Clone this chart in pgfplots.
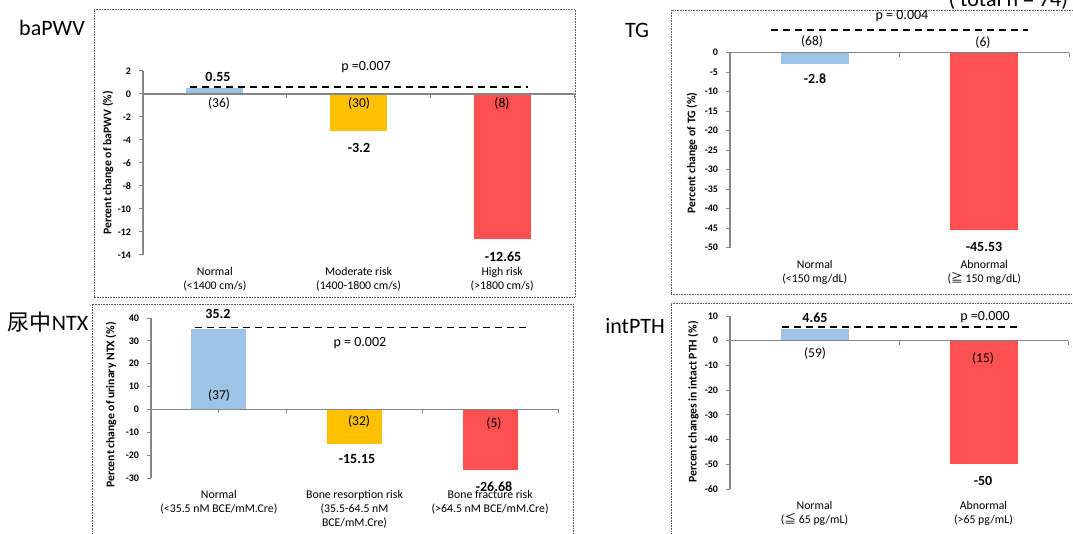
\documentclass[border=0pt]{standalone}
\usepackage{fontspec}
\setmainfont{Carlito}
\newfontfamily\cjk{Noto Sans CJK SC}
\usepackage{pgfplots}
\pgfplotsset{compat=1.18}

\definecolor{barblue}{RGB}{157,195,230}
\definecolor{baryellow}{RGB}{255,192,0}
\definecolor{barred}{RGB}{255,80,80}
\definecolor{axisgray}{RGB}{134,134,134}
\definecolor{framegray}{RGB}{90,90,90}

\pgfplotsset{
  panel/.style={
    scale only axis, clip=false, anchor=south west,
    axis y line*=left, axis x line*=bottom,
    x axis line style={draw=none},
    y axis line style={draw=axisgray, line width=1.2pt},
    xtick style={draw=none},
    ytick style={draw=axisgray, line width=1pt},
    tick align=outside, major tick length=4pt,
    yticklabel style={font=\bfseries\fontsize{10}{11}\selectfont, xshift=-4.5pt},
    xticklabel style={font=\fontsize{11.8}{14}\selectfont, align=center,
      anchor=north, inner sep=0pt, yshift=-8.5pt},
    ylabel style={font=\bfseries\fontsize{11.7}{13}\selectfont, anchor=center},
    /pgf/number format/assume math mode=true,
  },
  bar/.style={ybar, bar width=#1, bar shift=0pt, draw=none},
  pdash/.style={black, line width=1.3pt, dash pattern=on 7pt off 5pt},
}
\tikzset{
  val/.style={font=\bfseries\fontsize{14}{15}\selectfont},
  cnt/.style={font=\fontsize{13.5}{15}\selectfont},
  pv/.style={font=\fontsize{14}{15}\selectfont},
  ttl/.style={font=\fontsize{22}{24}\selectfont},
  frame/.style={framegray, line width=0.8pt, dash pattern=on 0.8pt off 0.8pt},
  zline/.style={axisgray, line width=1.3pt},
  ztick/.style={axisgray, line width=1pt},
}

\begin{document}
\begin{tikzpicture}[x=1pt,y=1pt]
\useasboundingbox (0,0) rectangle (1073,533);

% frames
\draw[frame] (94,236) rectangle (575,524);
\draw[frame] (671,239) rectangle (1085,523);
\draw[frame] (92,-10) rectangle (573,229);
\draw[frame] (671,-10) rectangle (1085,230);

% titles
\node[ttl] at (52,505) {baPWV};
\node[ttl] at (637,503) {TG};
\node[ttl] at (48,211) {{\cjk 尿中}NTX};
\node[ttl] at (635,207) {intPTH};
\node[ttl, anchor=base west] at (945,526) {( total n = 74)};

% ---- baPWV
\begin{axis}[panel, at={(143pt,278pt)}, width=431pt, height=184pt,
  xmin=-0.5, xmax=2.5, ymin=-14, ymax=2, ytick={-14,-12,...,2},
  xtick={0,1,2},
  xticklabels={{Normal\\(<1400 cm/s)},{Moderate risk\\(1400-1800 cm/s)},{High risk\\(>1800 cm/s)}},
  ylabel={Percent change of baPWV (\%)},
  ylabel style={at={(axis description cs:-0.081,0.5)}}]
\addplot[bar=57pt, fill=barblue] coordinates {(0,0.55)};
\addplot[bar=57pt, fill=baryellow] coordinates {(1,-3.2)};
\addplot[bar=57pt, fill=barred] coordinates {(2,-12.65)};
\addplot[pdash] coordinates {(-0.173,0.6) (2.18,0.6)};
\draw[zline] (axis cs:-0.5,0) -- (axis cs:2.5,0);
\draw[ztick] (axis cs:0.5,0) -- ++(0pt,-4pt);
\draw[ztick] (axis cs:1.5,0) -- ++(0pt,-4pt);
\draw[ztick] (axis cs:2.5,0) -- ++(0pt,-4pt);
\end{axis}
\node[val] at (218,456) {0.55};
\node[cnt] at (219,429) {(36)};
\node[cnt] at (359,429) {(30)};
\node[val] at (359,385) {-3.2};
\node[cnt] at (502,429) {(8)};
\node[val] at (503,276) {-12.65};
\node[pv] at (366,466) {p =0.007};

% ---- TG
\begin{axis}[panel, at={(730pt,285.3pt)}, width=339pt, height=195pt,
  xmin=-0.5, xmax=1.5, ymin=-50, ymax=0, ytick={-50,-45,...,0},
  xtick={0,1},
  xticklabels={{Normal\\(<150 mg/dL)},{Abnormal\\({\cjk ≧} 150 mg/dL)}},
  ylabel={Percent change of TG (\%)},
  ylabel style={at={(axis description cs:-0.112,0.486)}}]
\addplot[bar=68pt, fill=barblue] coordinates {(0,-2.8)};
\addplot[bar=68pt, fill=barred] coordinates {(1,-45.53)};
\addplot[pdash] coordinates {(-0.258,5.8) (1.258,5.8)};
\draw[zline] (axis cs:-0.5,0) -- (axis cs:1.5,0);
\draw[ztick] (axis cs:0.5,0) -- ++(0pt,-4pt);
\draw[ztick] (axis cs:1.5,0) -- ++(0pt,-4pt);
\end{axis}
\node[pv] at (902,517) {p = 0.004};
\node[cnt] at (812,491) {(68)};
\node[cnt] at (983,490) {(6)};
\node[val] at (815,454) {-2.8};
\node[val] at (984,286) {-45.53};

% ---- urinary NTX
\begin{axis}[panel, at={(151pt,55pt)}, width=407pt, height=160pt,
  xmin=-0.5, xmax=2.5, ymin=-30, ymax=40, ytick={-30,-20,...,40},
  xtick={0,1,2},
  xticklabels={{Normal\\(<35.5 nM BCE/mM.Cre)},{Bone resorption risk\\(35.5-64.5 nM\\BCE/mM.Cre)},{Bone fracture risk\\(>64.5 nM BCE/mM.Cre)}},
  ylabel={Percent change of urinary NTX (\%)},
  ylabel style={at={(axis description cs:-0.098,0.456)}}]
\addplot[bar=55pt, fill=barblue] coordinates {(0,35.2)};
\addplot[bar=55pt, fill=baryellow] coordinates {(1,-15.15)};
\addplot[bar=55pt, fill=barred] coordinates {(2,-26.68)};
\addplot[pdash] coordinates {(-0.176,35.9) (2.264,35.9)};
\draw[zline] (axis cs:-0.5,0) -- (axis cs:2.5,0);
\draw[ztick] (axis cs:0,0) -- ++(0pt,-4pt);
\draw[ztick] (axis cs:0.5,0) -- ++(0pt,-4pt);
\draw[ztick] (axis cs:1.5,0) -- ++(0pt,-4pt);
\draw[ztick] (axis cs:2,0) -- ++(0pt,-4pt);
\draw[ztick] (axis cs:2.5,0) -- ++(0pt,-4pt);
\end{axis}
\node[val] at (218,219) {35.2};
\node[pv] at (360,190) {p = 0.002};
\node[cnt] at (219,138) {(37)};
\node[cnt] at (359,112) {(32)};
\node[val] at (357,74) {-15.15};
\node[cnt] at (494,110) {(5)};
\node[val] at (494,46) {-26.68};

% ---- intact PTH
\begin{axis}[panel, at={(730pt,44pt)}, width=338pt, height=173pt,
  xmin=-0.5, xmax=1.5, ymin=-60, ymax=10, ytick={-60,-50,...,10},
  xtick={0,1},
  xticklabels={{Normal\\({\cjk ≦} 65 pg/mL)},{Abnormal\\(>65 pg/mL)}},
  ylabel={Percent changes in intact PTH (\%)},
  ylabel style={at={(axis description cs:-0.109,0.503)}}]
\addplot[bar=68pt, fill=barblue] coordinates {(0,4.65)};
\addplot[bar=68pt, fill=barred] coordinates {(1,-50)};
\addplot[pdash] coordinates {(-0.192,5.5) (1.198,5.5)};
\draw[zline] (axis cs:-0.5,0) -- (axis cs:1.5,0);
\draw[ztick] (axis cs:0.5,0) -- ++(0pt,-4pt);
\draw[ztick] (axis cs:1.5,0) -- ++(0pt,-4pt);
\end{axis}
\node[val] at (815,215) {4.65};
\node[pv] at (985,216) {p =0.000};
\node[cnt] at (815,180) {(59)};
\node[cnt] at (983,175) {(15)};
\node[val] at (983,52) {-50};
\end{tikzpicture}
\end{document}
